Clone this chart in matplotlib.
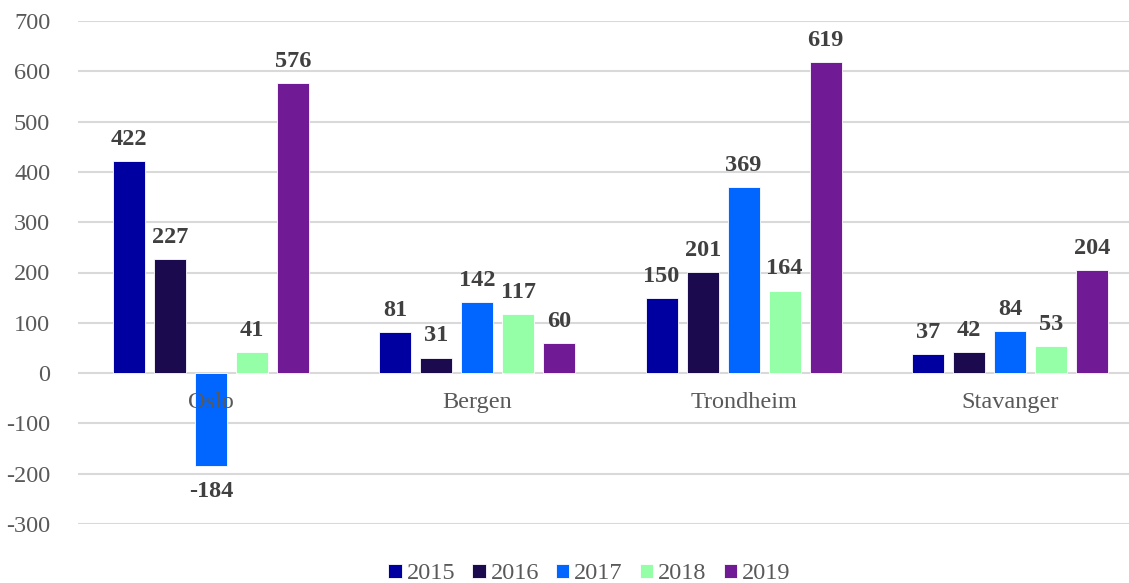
import matplotlib.pyplot as plt
import numpy as np
from matplotlib.ticker import FuncFormatter

cities = ['Oslo', 'Bergen', 'Trondheim', 'Stavanger']
years = ['2015', '2016', '2017', '2018', '2019']
values = {
    '2015': [422, 81, 150, 37],
    '2016': [227, 31, 201, 42],
    '2017': [-184, 142, 369, 84],
    '2018': [41, 117, 164, 53],
    '2019': [576, 60, 619, 204],
}
colors = ['#0000A0', '#1B0A4E', '#0066FF', '#95FFA8', '#701A96']

plt.rcParams['font.family'] = ['Liberation Serif', 'DejaVu Serif']
FS = 17.5

fig = plt.figure(figsize=(11.29, 5.83), dpi=100)
ax = fig.add_axes([78 / 1129, 59 / 583, 1051 / 1129, 503 / 583])

x = np.arange(len(cities))
step = 0.154
width = 0.121
for i, (yr, col) in enumerate(zip(years, colors)):
    pos = x + (i - 2) * step
    vals = values[yr]
    ax.bar(pos, vals, width=width, color=col, label=yr, zorder=3,
           edgecolor='white', linewidth=0.6)
    for p, v in zip(pos, vals):
        if v >= 0:
            ax.annotate(str(v), (p, v), xytext=(0, 8), textcoords='offset points',
                        ha='center', va='bottom', fontsize=FS, fontweight='bold',
                        color='#404040')
        else:
            ax.annotate(str(v), (p, v), xytext=(0, -11), textcoords='offset points',
                        ha='center', va='top', fontsize=FS, fontweight='bold',
                        color='#404040')

for xi, name in zip(x, cities):
    ax.text(xi, -58, name, ha='center', va='center', fontsize=FS, color='#595959',
            zorder=4)

ax.set_ylim(-300, 700)
ax.set_yticks(range(-300, 701, 100))
ax.yaxis.set_major_formatter(FuncFormatter(lambda v, p: f'{int(v)}'))
ax.set_xlim(-0.4995, 3.447)
ax.set_xticks([])
ax.tick_params(axis='y', length=0, pad=20, labelsize=FS, labelcolor='#595959')
ax.grid(axis='y', color='#D9D9D9', linewidth=1.5, zorder=0)
for s in ax.spines.values():
    s.set_visible(False)

leg = fig.legend(loc='lower center', bbox_to_anchor=(0.522, -0.04), ncol=5, frameon=False,
                 fontsize=FS, handlelength=0.55, handleheight=0.55, handletextpad=0.2,
                 columnspacing=0.7)
for t in leg.get_texts():
    t.set_color('#595959')

fig.savefig('out.png', dpi=100)
